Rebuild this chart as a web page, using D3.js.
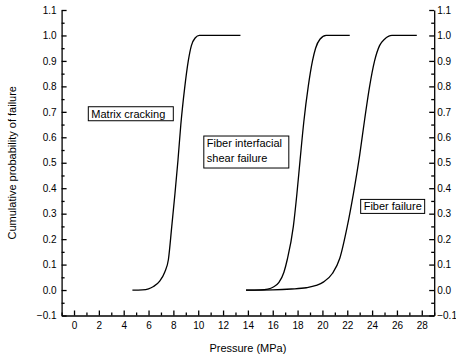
<!DOCTYPE html>
<html>
<head>
<meta charset="utf-8">
<script src="https://cdn.jsdelivr.net/npm/d3@7"></script>
<style>
  html, body { margin: 0; padding: 0; background: #fff; }
  svg { display: block; font-family: "Liberation Sans", Arial, sans-serif; }
  .axis path, .axis line { stroke: #000; stroke-width: 1.3; }
  .axis text { font-size: 10px; fill: #000; }
</style>
</head>
<body>
<svg id="chart" width="456" height="357"></svg>
<script>
// ── DATA ────────────────────────────────────────────
const xTicks = [0, 2, 4, 6, 8, 10, 12, 14, 16, 18, 20, 22, 24, 26, 28];
const yTicks = [-0.1, 0.0, 0.1, 0.2, 0.3, 0.4, 0.5, 0.6, 0.7, 0.8, 0.9, 1.0, 1.1];

const seriesNames = ['Matrix cracking', 'Fiber interfacial shear failure', 'Fiber failure'];

// pressure (MPa), cumulative probability
const matrixCracking = [
  [4.7, 0], [5.5, 0.001], [6.0, 0.005], [6.4, 0.014], [6.9, 0.035], [7.3, 0.07],
  [7.6, 0.12], [7.87, 0.25], [8.13, 0.38], [8.37, 0.51], [8.6, 0.65], [8.9, 0.79],
  [9.2, 0.9], [9.45, 0.96], [9.75, 0.99], [10.1, 1.0], [13.4, 1.0]
];
const fiberShear = [
  [13.85, 0], [15.0, 0.001], [15.6, 0.004], [16.05, 0.012], [16.5, 0.03], [16.9, 0.07],
  [17.17, 0.12], [17.66, 0.25], [17.95, 0.38], [18.2, 0.51], [18.5, 0.66], [18.86, 0.8],
  [19.2, 0.9], [19.45, 0.95], [19.8, 0.985], [20.3, 1.0], [22.2, 1.0]
];
const fiberFailure = [
  [13.85, 0], [16.0, 0.001], [17.5, 0.004], [18.7, 0.009], [19.5, 0.018], [20.1, 0.032],
  [20.8, 0.065], [21.4, 0.125], [22.0, 0.25], [22.5, 0.38], [23.0, 0.53], [23.4, 0.67],
  [23.8, 0.8], [24.2, 0.9], [24.6, 0.96], [25.0, 0.985], [25.6, 1.0], [27.6, 1.0]
];

// ── SCALES ──────────────────────────────────────────
const svg = d3.select('#chart');
const x = d3.scaleLinear().domain([-1, 29]).range([61.6, 434.2]);
const y = d3.scaleLinear().domain([-0.1, 1.1]).range([315.5, 10]);

const xMinor = d3.range(-1, 30, 1).filter(v => v % 2 !== 0);
const yMinor = d3.range(-0.05, 1.1, 0.1);

// ── AXES ────────────────────────────────────────────
svg.append('g').attr('class', 'axis')
  .attr('transform', `translate(0,${y(-0.1)})`)
  .call(d3.axisBottom(x).tickValues(xTicks).tickFormat(d3.format('d'))
    .tickSizeInner(-5).tickSizeOuter(0).tickPadding(6));
svg.append('g').attr('class', 'axis')
  .attr('transform', `translate(0,${y(-0.1)})`)
  .call(d3.axisBottom(x).tickValues(xMinor).tickFormat('').tickSizeInner(-3).tickSizeOuter(0))
  .select('.domain').remove();

svg.append('g').attr('class', 'axis')
  .attr('transform', `translate(${x(-1)},0)`)
  .call(d3.axisLeft(y).tickValues(yTicks).tickFormat(d3.format('.1f'))
    .tickSizeInner(-5).tickSizeOuter(0).tickPadding(5));
svg.append('g').attr('class', 'axis')
  .attr('transform', `translate(${x(-1)},0)`)
  .call(d3.axisLeft(y).tickValues(yMinor).tickFormat('').tickSizeInner(-3).tickSizeOuter(0))
  .select('.domain').remove();

svg.append('g').attr('class', 'axis')
  .attr('transform', `translate(${x(29)},0)`)
  .call(d3.axisRight(y).tickValues(yTicks).tickFormat(d3.format('.1f'))
    .tickSizeInner(-5).tickSizeOuter(0).tickPadding(3));
svg.append('g').attr('class', 'axis')
  .attr('transform', `translate(${x(29)},0)`)
  .call(d3.axisRight(y).tickValues(yMinor).tickFormat('').tickSizeInner(-3).tickSizeOuter(0))
  .select('.domain').remove();

// axis titles
svg.append('text')
  .attr('x', (x(-1) + x(29)) / 2).attr('y', 352)
  .attr('text-anchor', 'middle').attr('font-size', '11px')
  .text('Pressure (MPa)');
svg.append('text')
  .attr('transform', `translate(16,${(y(-0.1) + y(1.1)) / 2}) rotate(-90)`)
  .attr('text-anchor', 'middle').attr('font-size', '11px')
  .text('Cumulative probability of failure');

// ── CURVES ──────────────────────────────────────────
const line = d3.line().x(d => x(d[0])).y(d => y(d[1])).curve(d3.curveMonotoneX);
[matrixCracking, fiberShear, fiberFailure].forEach(s => {
  svg.append('path').datum(s)
    .attr('d', line)
    .attr('fill', 'none').attr('stroke', '#000').attr('stroke-width', 1.3);
});

// ── LABEL BOXES ─────────────────────────────────────
const boxes = [
  { lines: ['Matrix cracking'], px: 1.15, py: 0.72, w: 85, h: 14 },
  { lines: ['Fiber interfacial', 'shear failure'], px: 10.45, py: 0.605, w: 85, h: 32 },
  { lines: ['Fiber failure'], px: 23.08, py: 0.356, w: 64, h: 14 }
];
boxes.forEach(b => {
  const g = svg.append('g').attr('transform', `translate(${x(b.px)},${y(b.py)})`);
  g.append('rect').attr('width', b.w).attr('height', b.h)
    .attr('fill', '#fff').attr('stroke', '#000').attr('stroke-width', 1);
  b.lines.forEach((t, j) => {
    g.append('text').attr('x', 3).attr('y', 11 + j * 15)
      .attr('font-size', '11px').text(t);
  });
});
</script>
</body>
</html>
